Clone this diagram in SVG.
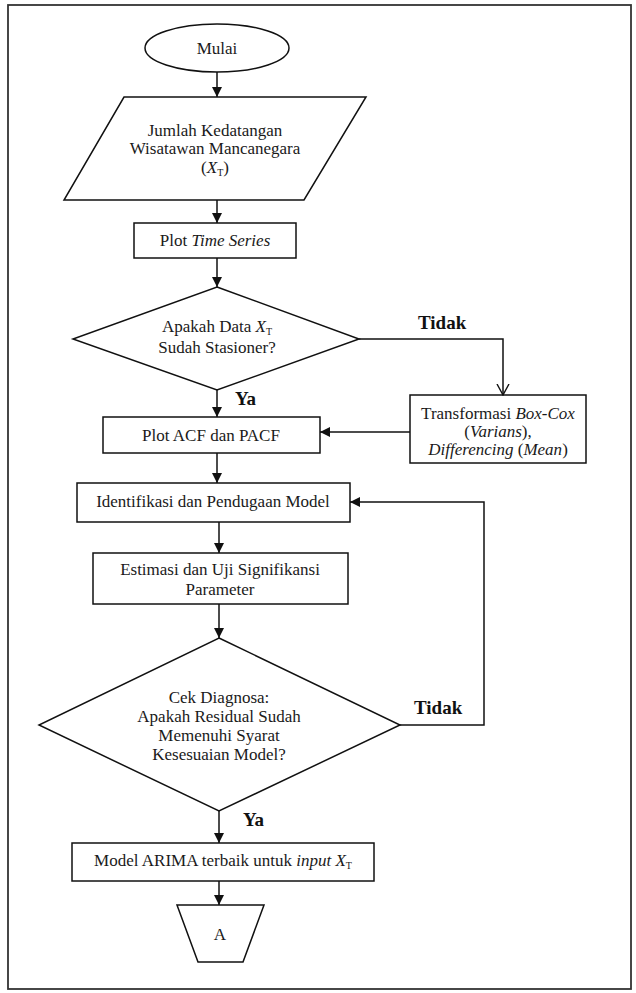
<svg xmlns="http://www.w3.org/2000/svg" width="636" height="993" viewBox="0 0 636 993">
<style>
.s{fill:none;stroke:#111;stroke-width:1.5}
.t{font-family:"Liberation Serif","Times New Roman",serif;font-size:17px;fill:#1a1a1a;text-anchor:middle}
.b{font-family:"Liberation Serif","Times New Roman",serif;font-size:19px;font-weight:bold;fill:#111}
.i{font-style:italic}
.sub{font-size:10px}
</style>
<defs>
<marker id="ah" markerUnits="userSpaceOnUse" markerWidth="10" markerHeight="10" refX="10" refY="5" orient="auto">
<path d="M0,0 L10,5 L0,10 z" fill="#111"/>
</marker>
<marker id="oh" markerUnits="userSpaceOnUse" markerWidth="12" markerHeight="14" refX="11" refY="7" orient="auto">
<path d="M0,1 L11,7 L0,13" fill="none" stroke="#111" stroke-width="1.4"/>
</marker>
</defs>
<rect width="636" height="993" fill="#fff"/>
<rect x="8" y="5" width="623" height="984" fill="none" stroke="#333" stroke-width="1.8"/>

<g id="connectors" class="s">
<path d="M217,72 V97" marker-end="url(#ah)"/>
<path d="M217,200 V223" marker-end="url(#ah)"/>
<path d="M217,258 V287" marker-end="url(#ah)"/>
<path d="M217,390 V417" marker-end="url(#ah)"/>
<path d="M359,339 H503 V395" marker-end="url(#oh)"/>
<path d="M410,432 H320" marker-end="url(#ah)"/>
<path d="M217,453 V483" marker-end="url(#ah)"/>
<path d="M219,522 V553" marker-end="url(#ah)"/>
<path d="M219,604 V638" marker-end="url(#ah)"/>
<path d="M400,725 H484 V502 H350" marker-end="url(#ah)"/>
<path d="M219,811 V843" marker-end="url(#ah)"/>
<path d="M219,881 V905" marker-end="url(#ah)"/>
</g>

<g id="labels">
<text class="b" x="418" y="329">Tidak</text>
<text class="b" x="235" y="405">Ya</text>
<text class="b" x="414" y="714">Tidak</text>
<text class="b" x="243" y="826">Ya</text>
</g>

<g id="mulai">
<ellipse class="s" cx="217" cy="48" rx="72" ry="24"/>
<text class="t" x="217" y="54">Mulai</text>
</g>

<g id="input">
<polygon class="s" points="124,97 366,97 304,200 64,200"/>
<text class="t" x="215" y="136">Jumlah Kedatangan</text>
<text class="t" x="215" y="154">Wisatawan Mancanegara</text>
<text class="t" x="215" y="173">(<tspan class="i">X</tspan><tspan class="sub" dy="3">T</tspan><tspan dy="-3">)</tspan></text>
</g>

<g id="plot-ts">
<rect class="s" x="134" y="223" width="162" height="35"/>
<text class="t" x="215" y="246">Plot <tspan class="i">Time Series</tspan></text>
</g>

<g id="stasioner">
<polygon class="s" points="217,287 359,339 217,390 73,339"/>
<text class="t" x="217" y="332">Apakah Data <tspan class="i">X</tspan><tspan class="sub" dy="3">T</tspan></text>
<text class="t" x="217" y="353">Sudah Stasioner?</text>
</g>

<g id="transformasi">
<rect class="s" x="410" y="395" width="176" height="68"/>
<text class="t" x="498" y="419">Transformasi <tspan class="i">Box-Cox</tspan></text>
<text class="t" x="498" y="437">(<tspan class="i">Varians</tspan>),</text>
<text class="t" x="498" y="455"><tspan class="i">Differencing</tspan> (<tspan class="i">Mean</tspan>)</text>
</g>

<g id="plot-acf">
<rect class="s" x="103" y="417" width="217" height="36"/>
<text class="t" x="211" y="441">Plot ACF dan PACF</text>
</g>

<g id="identifikasi">
<rect class="s" x="77" y="483" width="273" height="39"/>
<text class="t" x="213" y="507">Identifikasi dan Pendugaan Model</text>
</g>

<g id="estimasi">
<rect class="s" x="93" y="553" width="255" height="51"/>
<text class="t" x="220" y="575">Estimasi dan Uji Signifikansi</text>
<text class="t" x="220" y="595">Parameter</text>
</g>

<g id="diagnosa">
<polygon class="s" points="219,638 400,725 219,811 39,725"/>
<text class="t" x="219" y="703">Cek Diagnosa:</text>
<text class="t" x="219" y="722">Apakah Residual Sudah</text>
<text class="t" x="219" y="741">Memenuhi Syarat</text>
<text class="t" x="219" y="760">Kesesuaian Model?</text>
</g>

<g id="arima">
<rect class="s" x="72" y="843" width="302" height="38"/>
<text class="t" x="223" y="866">Model ARIMA terbaik untuk <tspan class="i">input X</tspan><tspan class="sub" dy="3">T</tspan></text>
</g>

<g id="connector-a">
<polygon class="s" points="177,905 264,905 243,962 198,962"/>
<text class="t" x="220" y="940">A</text>
</g>
</svg>
